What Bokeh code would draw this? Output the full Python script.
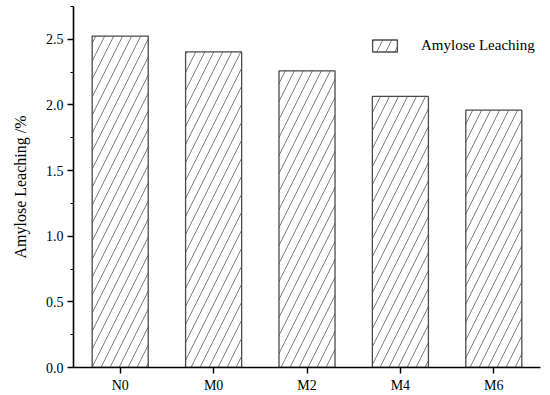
from bokeh.plotting import figure
from bokeh.models import ColumnDataSource, FactorRange, Range1d, SingleIntervalTicker, Legend, LegendItem, NumeralTickFormatter
from bokeh.embed import file_html
from bokeh.resources import INLINE

categories = ["N0", "M0", "M2", "M4", "M6"]
values = [2.525, 2.405, 2.26, 2.065, 1.96]
series_name = "Amylose Leaching"

src = ColumnDataSource(data=dict(x=categories, top=values))

p = figure(width=550, height=395, output_backend="svg", toolbar_location=None,
           x_range=FactorRange(factors=categories, range_padding=0),
           y_range=Range1d(0, 2.75),
           min_border_left=73, min_border_right=10, min_border_top=6, min_border_bottom=28)
p.outline_line_color = None
p.grid.grid_line_color = None

r = p.vbar(x="x", top="top", width=0.6, source=src,
           fill_color="white", line_color="#4a4a4a", line_width=1.3,
           hatch_pattern="/", hatch_color="#444444", hatch_weight=0.7, hatch_scale=18)

font = "Liberation Serif"
p.yaxis.ticker = SingleIntervalTicker(interval=0.5, num_minor_ticks=2)
p.yaxis.formatter = NumeralTickFormatter(format="0.0")
for ax in (p.xaxis[0], p.yaxis[0]):
    ax.axis_line_color = "black"
    ax.axis_line_width = 1.6
    ax.major_tick_line_color = "black"
    ax.major_tick_line_width = 1.4
    ax.major_tick_out = 6
    ax.major_tick_in = 0
    ax.minor_tick_line_color = "black"
    ax.minor_tick_line_width = 1.2
    ax.minor_tick_out = 3
    ax.minor_tick_in = 0
    ax.major_label_text_font = font
    ax.major_label_text_font_size = "14px"
    ax.major_label_text_color = "black"
p.yaxis.major_label_standoff = 4
p.xaxis.major_label_standoff = 4
p.yaxis.axis_label = "Amylose Leaching /%"
p.yaxis.axis_label_text_font = font
p.yaxis.axis_label_text_font_style = "normal"
p.yaxis.axis_label_text_font_size = "16px"
p.yaxis.axis_label_text_color = "black"
p.yaxis.axis_label_standoff = 14

legend = Legend(items=[LegendItem(label=series_name, renderers=[r])],
                location=(296, 313), padding=0, margin=0,
                border_line_color=None, background_fill_alpha=0,
                glyph_width=31, glyph_height=15, label_height=15,
                label_standoff=21, label_text_font=font,
                label_text_font_size="15px", label_text_color="black")
p.add_layout(legend)

open("out.html", "w").write(file_html(p, INLINE))
